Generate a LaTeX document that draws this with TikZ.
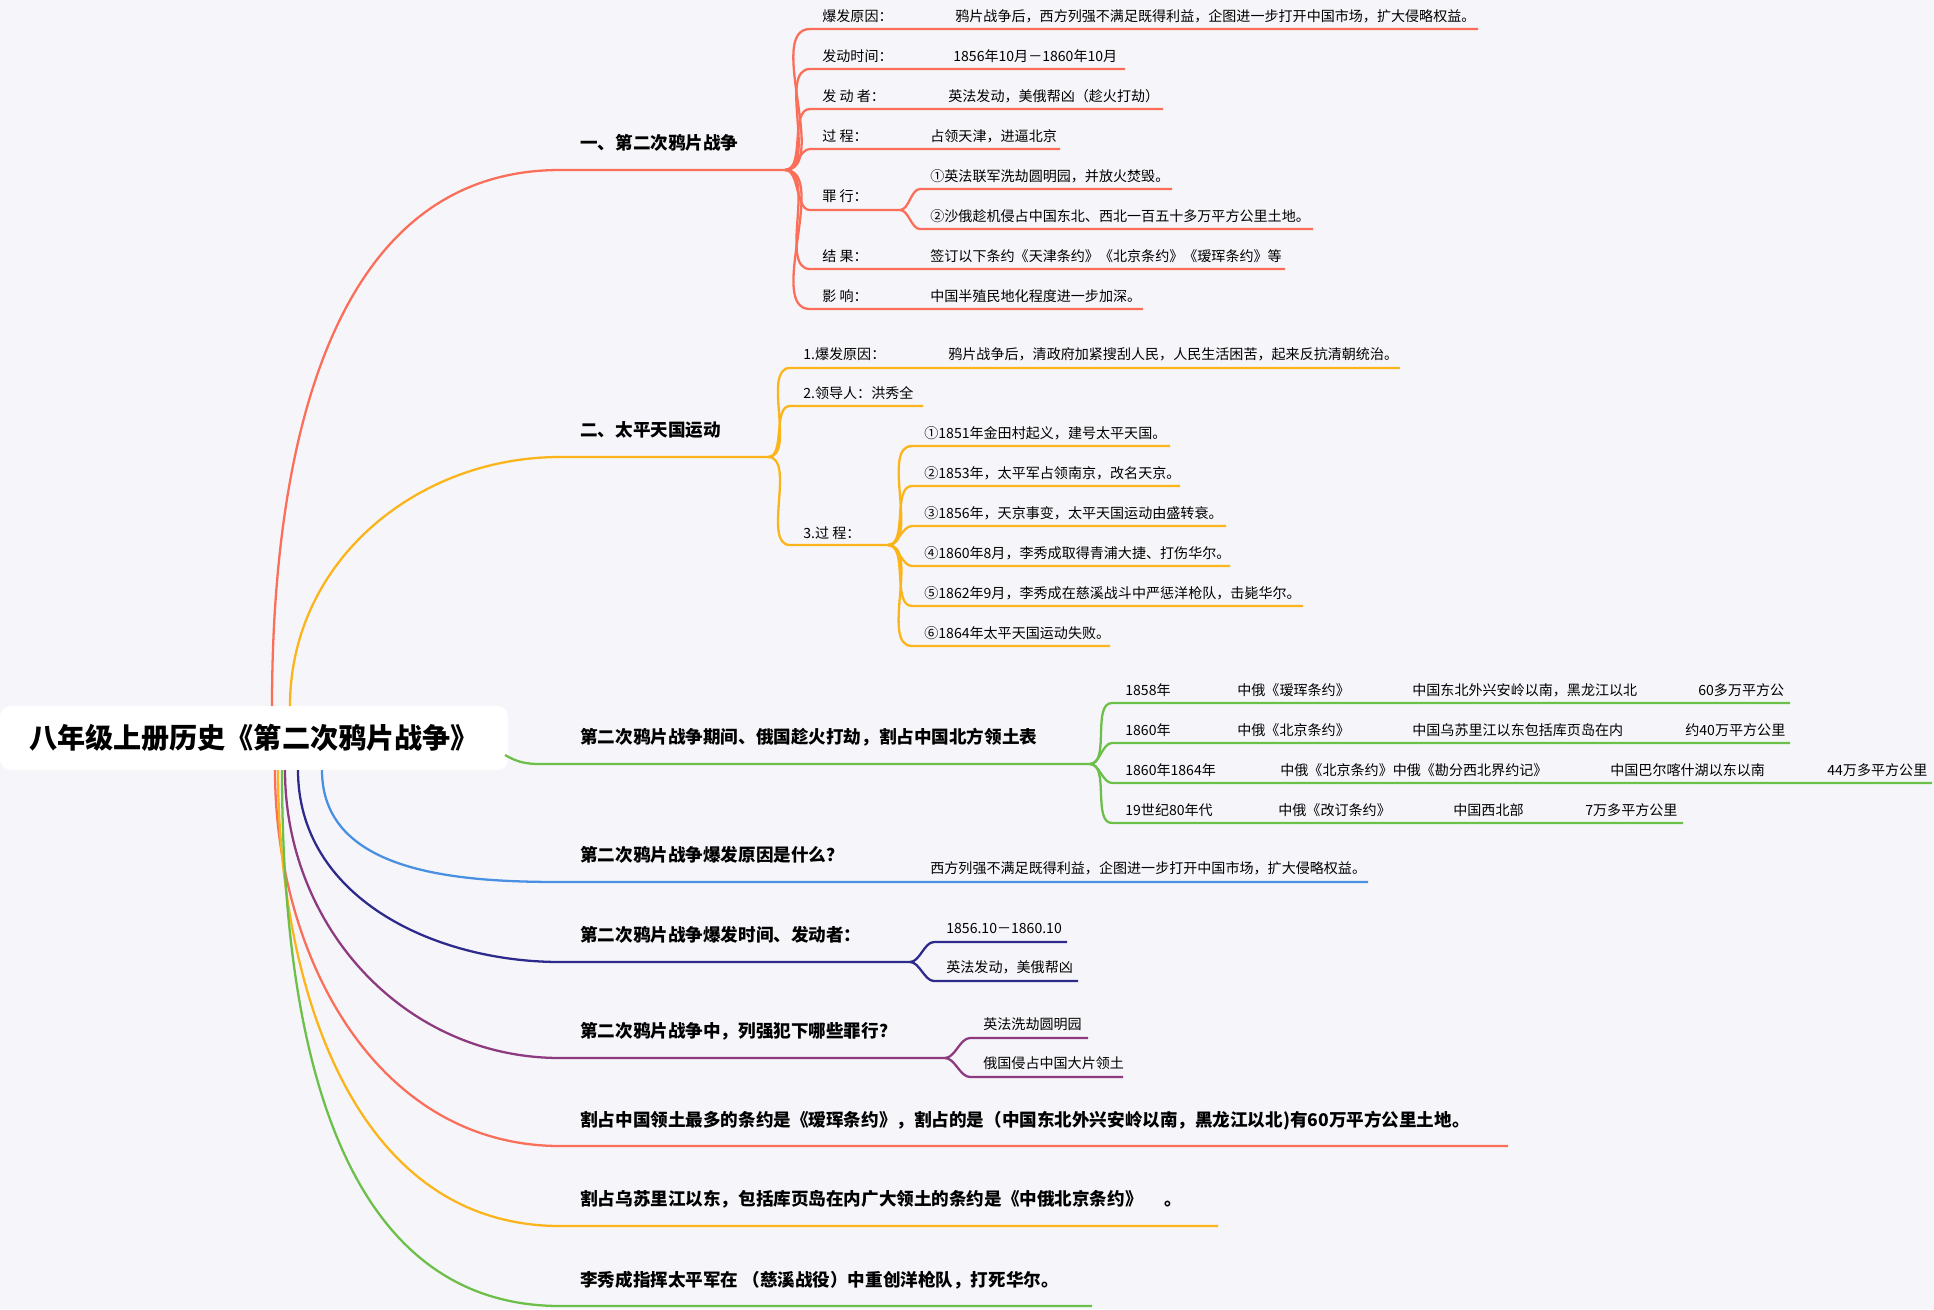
\documentclass[tikz,border=0pt]{standalone}
\usepackage{fontspec}
\setmainfont{Noto Sans CJK SC}
\definecolor{bgc}{RGB}{246,246,250}
\definecolor{cred}{RGB}{250,110,90}
\definecolor{corg}{RGB}{251,180,26}
\definecolor{cgrn}{RGB}{108,192,74}
\definecolor{cblu}{RGB}{74,144,226}
\definecolor{cnav}{RGB}{46,42,140}
\definecolor{cpur}{RGB}{142,58,128}
\tikzset{
  kid/.style={anchor=base west,inner sep=0pt,font=\fontsize{8}{9}\selectfont},
  topic/.style={anchor=base west,inner sep=0pt,font=\fontsize{10}{12}\selectfont\bfseries},
  wire/.style={line width=1.3pt},
  fork/.style={wire,out=0,in=180,looseness=0.8}
}
\begin{document}
\begin{tikzpicture}[x=0.02cm,y=-0.02cm]
\fill[bgc] (0,0) rectangle (1934,1309);
\node[fill=white,rounded corners=6pt,minimum width=10.16cm,minimum height=1.28cm,inner sep=0pt,
  font=\fontsize{16}{18}\selectfont\bfseries] (root) at (254,738) {八年级上册历史《第二次鸦片战争》};

% 一、第二次鸦片战争
\node[topic] (t1) at (580,149) {一、第二次鸦片战争};
\coordinate (t1a) at (560,170); \coordinate (t1b) at (785,170);
\draw[wire,cred] (272,706) to[out=90,in=180] (t1a) -- (t1b);
\foreach \k/\v/\y/\x/\e in {爆发原因：/鸦片战争后，西方列强不满足既得利益，企图进一步打开中国市场，扩大侵略权益。/16/955/1478,
  发动时间：/1856年10月－1860年10月/56/953/1125,
  发~动~者：/英法发动，美俄帮凶（趁火打劫）/96/948/1163,
  过~程：/占领天津，进逼北京/136/930/1060,
  结~果：/签订以下条约《天津条约》《北京条约》《瑷珲条约》等/256/930/1285,
  影~响：/中国半殖民地化程度进一步加深。/296/930/1143}{
  \node[kid] (k1) at (822,\y+5) {\k};
  \node[kid] (v1) at (\x,\y+5) {\v};
  \draw[wire,cred] (t1b) to[fork] (810,\y+13) -- (\e,\y+13);
}
\node[kid] (k1z) at (822,201) {罪~行：};
\coordinate (z1) at (900,210);
\draw[wire,cred] (t1b) to[fork] (810,210) -- (z1);
\foreach \v/\y/\e in {①英法联军洗劫圆明园，并放火焚毁。/176/1172,②沙俄趁机侵占中国东北、西北一百五十多万平方公里土地。/216/1313}{
  \node[kid] (vz) at (930,\y+5) {\v};
  \draw[wire,cred] (z1) to[fork] (920,\y+13) -- (\e,\y+13);
}

% 二、太平天国运动
\node[topic] (t2) at (580,436) {二、太平天国运动};
\coordinate (t2a) at (560,457); \coordinate (t2b) at (768,457);
\draw[wire,corg] (290,706) to[out=90,in=180] (t2a) -- (t2b);
\node[kid] (k21) at (803,359) {1.爆发原因：};
\node[kid] (v21) at (948,359) {鸦片战争后，清政府加紧搜刮人民，人民生活困苦，起来反抗清朝统治。};
\draw[wire,corg] (t2b) to[fork] (790,368) -- (1400,368);
\node[kid] (k22) at (803,398) {2.领导人：洪秀全};
\draw[wire,corg] (t2b) to[fork] (790,406) -- (923,406);
\node[kid] (k23) at (803,538) {3.过~程：};
\coordinate (p23) at (888,545);
\draw[wire,corg] (t2b) to[fork] (790,545) -- (p23);
\foreach \v/\y/\e in {①1851年金田村起义，建号太平天国。/433/1170,②1853年，太平军占领南京，改名天京。/473/1180,
  ③1856年，天京事变，太平天国运动由盛转衰。/513/1226,④1860年8月，李秀成取得青浦大捷、打伤华尔。/553/1230,
  ⑤1862年9月，李秀成在慈溪战斗中严惩洋枪队，击毙华尔。/593/1303,⑥1864年太平天国运动失败。/633/1110}{
  \node[kid] (v2) at (924,\y+5) {\v};
  \draw[wire,corg] (p23) to[fork] (912,\y+13) -- (\e,\y+13);
}

% 割占领土表
\node[topic] (t3) at (580,743) {第二次鸦片战争期间、俄国趁火打劫，割占中国北方领土表};
\coordinate (t3b) at (1090,764);
\draw[wire,cgrn] (505,755) to[out=-30,in=180] (540,764) -- (t3b);
\foreach \a/\b/\c/\d/\xb/\xc/\xd/\y/\e in {1858年/中俄《瑷珲条约》/中国东北外兴安岭以南，黑龙江以北/60多万平方公/1237/1412/1698/690/1790,
  1860年/中俄《北京条约》/中国乌苏里江以东包括库页岛在内/约40万平方公里/1237/1412/1685/730/1790,
  1860年1864年/中俄《北京条约》中俄《勘分西北界约记》/中国巴尔喀什湖以东以南/44万多平方公里/1280/1610/1827/770/1932,
  19世纪80年代/中俄《改订条约》/中国西北部/7万多平方公里/1278/1453/1585/810/1683}{
  \node[kid] (ra) at (1125,\y+5) {\a};
  \node[kid] (rb) at (\xb,\y+5) {\b};
  \node[kid] (rc) at (\xc,\y+5) {\c};
  \node[kid] (rd) at (\xd,\y+5) {\d};
  \draw[wire,cgrn] (t3b) to[fork] (1112,\y+13) -- (\e,\y+13);
}

% 问答
\node[topic] (t4) at (580,861) {第二次鸦片战争爆发原因是什么？};
\node[kid] (v4) at (930,873) {西方列强不满足既得利益，企图进一步打开中国市场，扩大侵略权益。};
\draw[wire,cblu] (322,770) to[out=-90,in=180] (560,882) -- (1368,882);

\node[topic] (t5) at (580,941) {第二次鸦片战争爆发时间、发动者：};
\coordinate (t5b) at (910,962);
\draw[wire,cnav] (298,770) to[out=-90,in=180] (560,962) -- (t5b);
\foreach \v/\y/\e in {1856.10－1860.10/928/1067,英法发动，美俄帮凶/967/1078}{
  \node[kid] (v5) at (946,\y+5) {\v};
  \draw[wire,cnav] (t5b) to[fork] (934,\y+14) -- (\e,\y+14);
}

\node[topic] (t6) at (580,1037) {第二次鸦片战争中，列强犯下哪些罪行？};
\coordinate (t6b) at (945,1058);
\draw[wire,cpur] (285,770) to[out=-90,in=180] (560,1058) -- (t6b);
\foreach \v/\y/\e in {英法洗劫圆明园/1024/1088,俄国侵占中国大片领土/1063/1123}{
  \node[kid] (v6) at (983,\y+5) {\v};
  \draw[wire,cpur] (t6b) to[fork] (970,\y+14) -- (\e,\y+14);
}

\node[topic] (t7) at (580,1126) {割占中国领土最多的条约是《瑷珲条约》，割占的是（中国东北外兴安岭以南，黑龙江以北)有60万平方公里土地。};
\draw[wire,cred] (275,770) to[out=-90,in=180] (560,1146) -- (1508,1146);
\node[topic] (t8) at (580,1205) {割占乌苏里江以东，包括库页岛在内广大领土的条约是《中俄北京条约》\quad\ 。};
\draw[wire,corg] (278,770) to[out=-90,in=180] (560,1226) -- (1218,1226);
\node[topic] (t9) at (580,1286) {李秀成指挥太平军在 （慈溪战役）中重创洋枪队，打死华尔。};
\draw[wire,cgrn] (282,770) to[out=-90,in=180] (560,1306) -- (1092,1306);
\end{tikzpicture}
\end{document}
